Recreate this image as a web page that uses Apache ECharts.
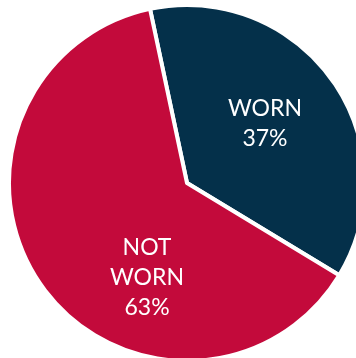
<!DOCTYPE html>
<html>
<head>
<meta charset="utf-8">
<script src="https://cdn.jsdelivr.net/npm/echarts@6/dist/echarts.min.js"></script>
<style>
  html, body { margin: 0; padding: 0; background: #fff; }
  #chart { width: 356px; height: 358px; }
</style>
</head>
<body>
<div id="chart"></div>
<script>
// slice names, label text and values
var names = ['WORN', 'NOT WORN'];
var labelText = ['WORN\n37%', 'NOT\nWORN\n63%'];
var values = [37, 63];
var colors = ['#04304a', '#c30a3b'];

// label nudges (style only)
var labelOffsets = [[3, -6], [35, 41]];

var pieData = names.map(function (n, i) {
    return {
        name: n,
        value: values[i],
        itemStyle: { color: colors[i] },
        label: { offset: labelOffsets[i] }
    };
});

var chart = echarts.init(document.getElementById('chart'));
chart.setOption({
    animation: false,
    series: [{
        type: 'pie',
        center: [187, 183],
        radius: [0, 178],
        startAngle: 102,
        clockwise: true,
        data: pieData,
        itemStyle: {
            borderColor: '#ffffff',
            borderWidth: 4
        },
        label: {
            show: true,
            position: 'inside',
            color: '#ffffff',
            fontFamily: 'Lato',
            fontSize: 23,
            lineHeight: 30,
            align: 'center',
            formatter: function (p) {
                return labelText[p.dataIndex];
            }
        },
        labelLine: { show: false },
        emphasis: { disabled: true }
    }]
});
</script>
</body>
</html>
